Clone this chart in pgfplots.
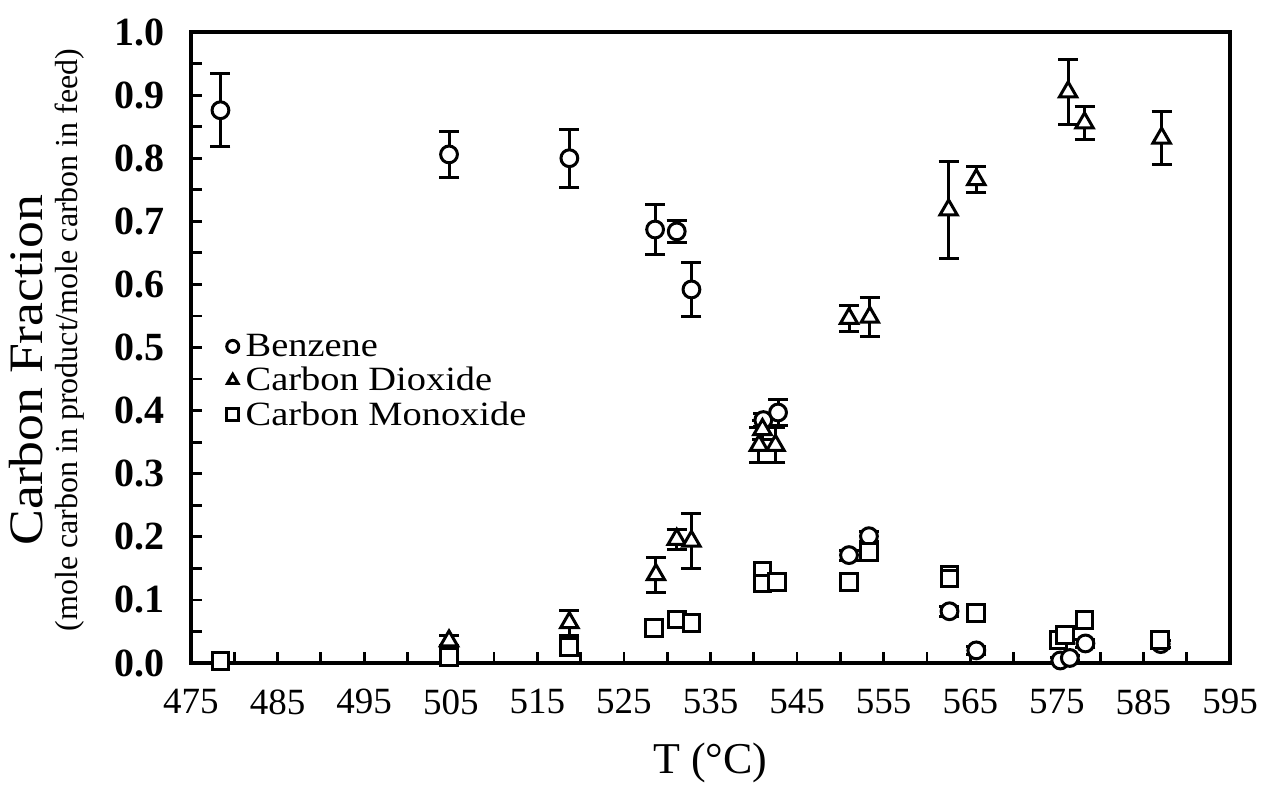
\documentclass[border=0pt]{standalone}
\usepackage{pgfplots}
\pgfplotsset{compat=1.18}
\usepackage{pgfplotstable}
\usepackage{graphicx}
\usepackage{fontspec}
\setmainfont{Liberation Serif}

\pgfplotstableread{
x y e
478.4 0.876 0.058
504.8 0.806 0.036
518.7 0.800 0.046
528.6 0.687 0.040
531.1 0.684 0.017
532.8 0.592 0.043
541.1 0.385 0.010
542.8 0.397 0.020
551.0 0.171 0.008
553.3 0.201 0.008
562.6 0.082 0.008
565.7 0.020 0.006
575.4 0.004 0.004
576.5 0.008 0.004
578.3 0.031 0.006
587.0 0.030 0.006
}\benzene

\pgfplotstableread{
x y e
504.8 0.035 0.008
518.7 0.064 0.020
528.7 0.140 0.028
531.1 0.196 0.016
532.8 0.193 0.044
540.6 0.345 0.028
541.0 0.370 0.015
542.5 0.345 0.028
551.0 0.546 0.020
553.4 0.548 0.031
562.5 0.718 0.077
565.7 0.766 0.021
576.3 0.905 0.051
578.2 0.856 0.026
587.1 0.832 0.042
}\cotwo

\pgfplotstableread{
x y
478.4 0.003
504.8 0.010
518.7 0.026
528.5 0.055
531.1 0.069
532.8 0.063
541.0 0.146
541.0 0.126
542.7 0.128
551.0 0.129
553.3 0.176
562.6 0.140
562.6 0.134
565.7 0.079
575.2 0.036
575.9 0.044
578.2 0.068
586.9 0.037
}\co

\begin{document}
\begin{tikzpicture}
\useasboundingbox (-95.5pt,-60.5pt) rectangle (536pt,331.5pt);
\begin{axis}[
  scale only axis, width=519.5pt, height=315.5pt,
  at={(0pt,0pt)}, anchor=south west,
  xmin=475, xmax=595, ymin=0, ymax=1,
  clip=false,
  axis line style={line width=1.6pt},
  every tick/.style={line width=1.4pt, black},
  tick align=inside, tick pos=left,
  major tick length=5.5pt, minor tick length=5.5pt,
  xtick={475,485,...,595}, minor xtick={480,490,...,590},
  ytick={0,0.1,0.2,0.3,0.4,0.5,0.6,0.7,0.8,0.9,1.0},
  minor ytick={0.05,0.15,0.25,0.35,0.45,0.55,0.65,0.75,0.85,0.95},
  /pgf/number format/assume math mode=true,
  xticklabel={\pgfmathprintnumber{\tick}},
  x tick label style={font=\fontsize{18.5}{18.5}\selectfont, anchor=north, inner sep=0pt, yshift=-13pt},
  y tick label style={/pgf/number format/.cd, fixed, fixed zerofill, precision=1, /tikz/.cd,
     font=\fontsize{20}{20}\selectfont\bfseries, anchor=east, inner sep=0pt, xshift=-13pt},
  legend style={at={(rel axis cs:0.034,0.524)}, anchor=north west, draw=none, fill=none,
     font=\fontsize{17}{17}\selectfont, row sep=3pt, inner sep=0pt,
     nodes={inner sep=0.5pt}},
  legend cell align=left,
  legend image code/.code={\draw[#1, mark size=3pt] plot coordinates {(3pt,0pt)};},
]
\addplot[only marks, mark=*, mark size=4.2pt,
  mark options={fill=white, draw=black, line width=1.5pt},
  error bars/.cd, y dir=both, y explicit,
  error bar style={line width=1.5pt, black},
  error mark options={rotate=90, mark size=5pt, line width=1.5pt, black}]
  table[x=x, y=y, y error=e] {\benzene};
\addlegendentry{\hspace{3pt}\scalebox{1.13}[1]{Benzene}}
\addplot[only marks, mark=triangle*, mark size=5pt,
  mark options={fill=white, draw=black, line width=1.5pt},
  error bars/.cd, y dir=both, y explicit,
  error bar style={line width=1.5pt, black},
  error mark options={rotate=90, mark size=5pt, line width=1.5pt, black}]
  table[x=x, y=y, y error=e] {\cotwo};
\addlegendentry{\hspace{3pt}\scalebox{1.13}[1]{Carbon Dioxide}}
\addplot[only marks, mark=square*, mark size=4.2pt,
  mark options={fill=white, draw=black, line width=1.5pt}]
  table[x=x, y=y] {\co};
\addlegendentry{\hspace{3pt}\scalebox{1.13}[1]{Carbon Monoxide}}

\node[rotate=90, font=\fontsize{24}{24}\selectfont] at ([xshift=-82.5pt]rel axis cs:0,0.464) {\scalebox{1.12}[1]{Carbon Fraction}};
\node[rotate=90, font=\fontsize{16}{16}\selectfont] at ([xshift=-60.5pt]rel axis cs:0,0.512) {(mole carbon in product/mole carbon in feed)};
\node[font=\fontsize{22}{22}\selectfont] at ([yshift=-50pt]rel axis cs:0.5,0) {T (°C)};
\end{axis}
\end{tikzpicture}
\end{document}
